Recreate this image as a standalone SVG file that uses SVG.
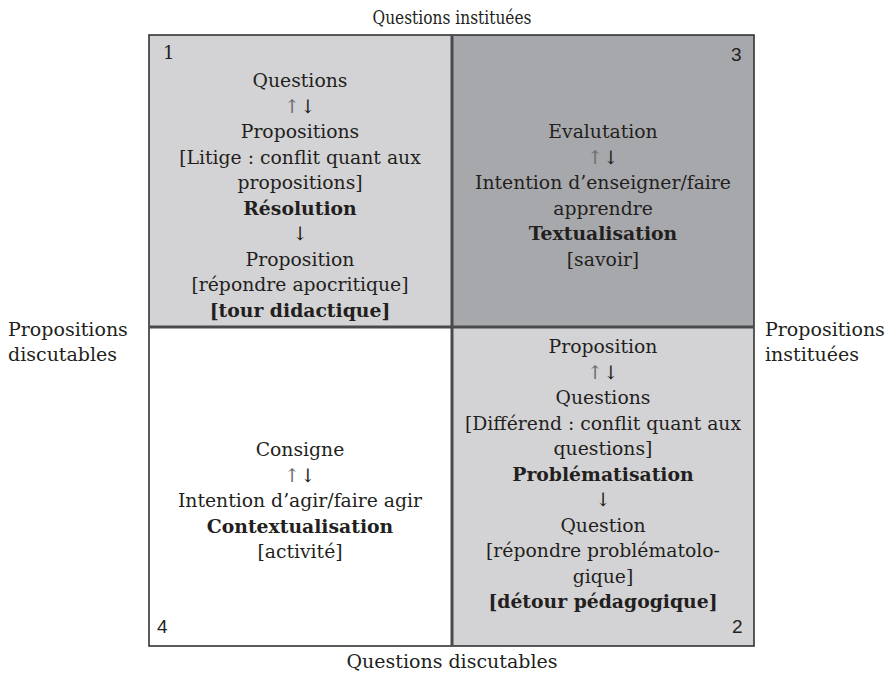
<svg xmlns="http://www.w3.org/2000/svg" width="888" height="675" viewBox="0 0 888 675">
<style>
  text { font-family: "DejaVu Serif", "Liberation Serif", serif; fill: #231f20; }
  .c { font-size: 18.8px; text-anchor: middle; }
  .b { font-weight: bold; }
  .o { font-size: 19px; }
  .n { font-family: "Liberation Sans", Arial, sans-serif; font-size: 19px; }
  .up { fill: #6d6d6d; }
  .q1 { fill: #d3d3d5; }
  .q3 { fill: #a7a8ab; }
  .q4 { fill: #ffffff; }
</style>
<rect width="888" height="675" fill="#ffffff"/>

<g id="axis-labels">
  <text class="o" x="452" y="24" text-anchor="middle" textLength="159" lengthAdjust="spacingAndGlyphs">Questions instituées</text>
  <text class="o" x="452" y="668" text-anchor="middle">Questions discutables</text>
  <text class="o" x="8" y="336">Propositions</text>
  <text class="o" x="8" y="361">discutables</text>
  <text class="o" x="765" y="336">Propositions</text>
  <text class="o" x="765" y="361">instituées</text>
</g>

<g id="q1">
  <rect class="q1" x="149" y="35" width="303" height="292"/>
  <text x="163" y="59" style="font-size:18px">1</text>
  <text class="c" x="300" y="87.3">Questions</text>
  <text class="c" x="300" y="112.8"><tspan class="up">↑</tspan>↓</text>
  <text class="c" x="300" y="138.3">Propositions</text>
  <text class="c" x="300" y="163.8">[Litige : conflit quant aux</text>
  <text class="c" x="300" y="189.3">propositions]</text>
  <text class="c b" x="300" y="214.8">Résolution</text>
  <text class="c" x="300" y="240.3">↓</text>
  <text class="c" x="300" y="265.8">Proposition</text>
  <text class="c" x="300" y="291.3">[répondre apocritique]</text>
  <text class="c b" x="300" y="316.8">[tour didactique]</text>
</g>

<g id="q3">
  <rect class="q3" x="452" y="35" width="302" height="292"/>
  <text class="n" x="731" y="61">3</text>
  <text class="c" x="603" y="138.3">Evalutation</text>
  <text class="c" x="603" y="163.8"><tspan class="up">↑</tspan>↓</text>
  <text class="c" x="603" y="189.3">Intention d’enseigner/faire</text>
  <text class="c" x="603" y="214.8">apprendre</text>
  <text class="c b" x="603" y="240.3">Textualisation</text>
  <text class="c" x="603" y="265.8">[savoir]</text>
</g>

<g id="q4">
  <rect class="q4" x="149" y="327" width="303" height="319"/>
  <text class="n" x="157" y="633">4</text>
  <text class="c" x="300" y="456">Consigne</text>
  <text class="c" x="300" y="481.5"><tspan class="up">↑</tspan>↓</text>
  <text class="c" x="300" y="507">Intention d’agir/faire agir</text>
  <text class="c b" x="300" y="532.5">Contextualisation</text>
  <text class="c" x="300" y="558">[activité]</text>
</g>

<g id="q2">
  <rect class="q1" x="452" y="327" width="302" height="319"/>
  <text class="n" x="732" y="633">2</text>
  <text class="c" x="603" y="353.3">Proposition</text>
  <text class="c" x="603" y="378.8"><tspan class="up">↑</tspan>↓</text>
  <text class="c" x="603" y="404.3">Questions</text>
  <text class="c" x="603" y="429.8">[Différend : conflit quant aux</text>
  <text class="c" x="603" y="455.3">questions]</text>
  <text class="c b" x="603" y="480.8">Problématisation</text>
  <text class="c" x="603" y="506.3">↓</text>
  <text class="c" x="603" y="531.8">Question</text>
  <text class="c" x="603" y="557.3">[répondre problématolo-</text>
  <text class="c" x="603" y="582.8">gique]</text>
  <text class="c b" x="603" y="608.3">[détour pédagogique]</text>
</g>

<g id="connectors" fill="none">
  <rect x="149" y="35" width="605" height="611" stroke="#333333" stroke-width="1.6"/>
  <line x1="452" y1="35" x2="452" y2="646" stroke="#4a4a4c" stroke-width="3"/>
  <line x1="149" y1="327" x2="754" y2="327" stroke="#4a4a4c" stroke-width="3"/>
</g>
</svg>
